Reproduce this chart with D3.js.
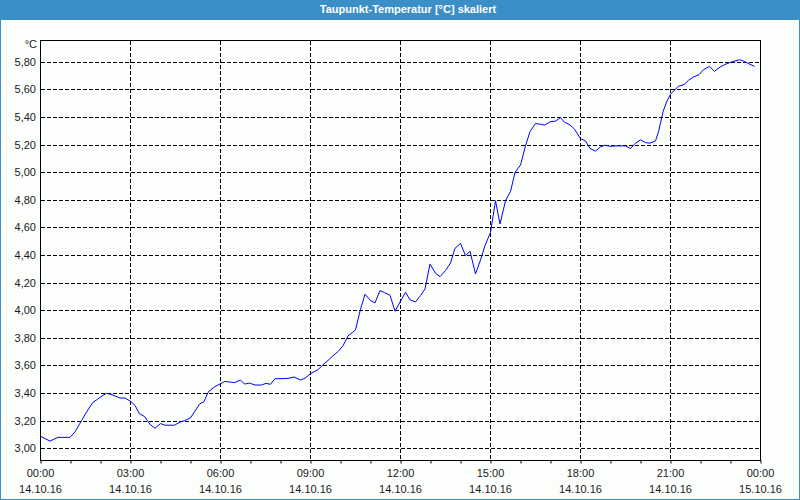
<!DOCTYPE html>
<html lang="de">
<head>
    <meta charset="UTF-8">
    <title>Taupunkt-Temperatur</title>
    <script src="https://cdnjs.cloudflare.com/ajax/libs/d3/7.8.5/d3.min.js"></script>
    <style>
        body { margin: 0; }
        svg { display: block; }
    </style>
</head>
<body>
    <div id="wrapper"></div>
    <script>
        // Messzeitpunkte in Minuten ab 14.10.16 00:00
        const minutes = [
            0, 20, 36, 60, 70, 83, 93, 106, 115, 122, 133, 144, 160, 170, 181, 190,
            199, 209, 220, 230, 241, 250, 269, 280, 289, 301, 310, 319, 328, 336, 349, 360,
            370, 379, 389, 401, 409, 419, 430, 443, 452, 461, 470, 482, 496, 508, 521, 530,
            541, 556, 566, 576, 586, 596, 606, 616, 625, 631, 641, 650, 661, 670, 680, 689,
            700, 710, 731, 740, 751, 761, 770, 780, 791, 800, 811, 821, 830, 841, 851, 860,
            871, 881, 890, 901, 911, 920, 931, 941, 950, 961, 971, 980, 991, 1001, 1009, 1021,
            1031, 1041, 1049, 1060, 1069, 1081, 1091, 1100, 1111, 1121, 1130, 1141, 1151, 1160, 1171, 1181,
            1190, 1201, 1211, 1220, 1231, 1237, 1246, 1253, 1261, 1270, 1277, 1288, 1297, 1307, 1318, 1327,
            1339, 1349, 1360, 1369, 1379, 1390, 1399, 1409, 1420, 1429
        ]
        // Taupunkt in °C
        const dewPoint = [
            3.088, 3.052, 3.079, 3.079, 3.119, 3.200, 3.262, 3.333, 3.355, 3.374, 3.398, 3.388, 3.364, 3.364, 3.340, 3.310,
            3.250, 3.230, 3.174, 3.145, 3.179, 3.167, 3.167, 3.190, 3.200, 3.220, 3.270, 3.320, 3.338, 3.405, 3.445, 3.466,
            3.484, 3.480, 3.475, 3.494, 3.465, 3.472, 3.458, 3.458, 3.470, 3.463, 3.504, 3.504, 3.506, 3.516, 3.494, 3.508,
            3.540, 3.569, 3.605, 3.636, 3.670, 3.700, 3.742, 3.814, 3.839, 3.858, 4.007, 4.116, 4.070, 4.053, 4.142, 4.128,
            4.108, 3.993, 4.130, 4.075, 4.060, 4.106, 4.154, 4.335, 4.267, 4.243, 4.287, 4.342, 4.448, 4.484, 4.395, 4.427,
            4.263, 4.364, 4.467, 4.564, 4.793, 4.624, 4.793, 4.860, 4.998, 5.051, 5.190, 5.294, 5.352, 5.347, 5.340, 5.366,
            5.369, 5.395, 5.361, 5.342, 5.311, 5.243, 5.226, 5.171, 5.152, 5.183, 5.195, 5.186, 5.190, 5.190, 5.190, 5.171,
            5.207, 5.234, 5.214, 5.210, 5.226, 5.292, 5.436, 5.508, 5.564, 5.598, 5.622, 5.634, 5.665, 5.689, 5.706, 5.742,
            5.766, 5.730, 5.761, 5.778, 5.793, 5.805, 5.814, 5.802, 5.781, 5.766
        ]
        const yTicks = [3.0, 3.2, 3.4, 3.6, 3.8, 4.0, 4.2, 4.4, 4.6, 4.8, 5.0, 5.2, 5.4, 5.6, 5.8]
        const xTickHours = [0, 3, 6, 9, 12, 15, 18, 21, 24]
        const titleText = 'Taupunkt-Temperatur [°C] skaliert'
        const unitText = '°C'

        function drawChart() {
            const start = new Date(2016, 9, 14, 0, 0)
            const toDate = m => new Date(start.getTime() + m * 60000)
            const dataset = minutes.map((m, i) => ({ date: toDate(m), value: dewPoint[i] }))
            const xAccessor = d => d.date
            const yAccessor = d => d.value

            const dimensions = {
                width: 800,
                height: 500,
                margin: { top: 40, right: 40, bottom: 40, left: 40 }
            }
            dimensions.boundedWidth = dimensions.width - dimensions.margin.left - dimensions.margin.right
            dimensions.boundedHeight = dimensions.height - dimensions.margin.top - dimensions.margin.bottom

            const frameColor = '#3c8fc6'
            const font = '"Liberation Sans", Arial, sans-serif'

            const wrapper = d3.select('#wrapper')
                .append('svg')
                    .attr('width', dimensions.width)
                    .attr('height', dimensions.height)
                    .style('font-family', font)

            // Rahmen und Titelleiste
            wrapper.append('rect')
                .attr('x', 0.5).attr('y', 0.5)
                .attr('width', dimensions.width - 1).attr('height', dimensions.height - 1)
                .attr('fill', '#fcfefc')
                .attr('stroke', frameColor)
            wrapper.append('rect')
                .attr('width', dimensions.width).attr('height', 20)
                .attr('fill', frameColor)
            wrapper.append('text')
                .attr('x', 408).attr('y', 13)
                .attr('fill', 'white')
                .attr('text-anchor', 'middle')
                .style('font-size', '11px')
                .style('font-weight', 'bold')
                .text(titleText)

            const bounds = wrapper.append('g')
                .attr('transform', `translate(${dimensions.margin.left},${dimensions.margin.top})`)

            const xScale = d3.scaleTime()
                .domain([start, toDate(24 * 60)])
                .range([0, dimensions.boundedWidth])

            const yScale = d3.scaleLinear()
                .domain([2.915, 5.957])
                .range([dimensions.boundedHeight, 0])

            // Gitter
            const grid = bounds.append('g')
                .attr('stroke', 'black')
                .attr('stroke-dasharray', '4,2')
                .attr('shape-rendering', 'crispEdges')
            grid.selectAll('.hgrid')
                .data(yTicks)
                .join('line')
                    .attr('x1', 1).attr('x2', dimensions.boundedWidth)
                    .attr('y1', d => Math.round(yScale(d)) + 0.5)
                    .attr('y2', d => Math.round(yScale(d)) + 0.5)
            grid.selectAll('.vgrid')
                .data(xTickHours.slice(1, -1))
                .join('line')
                    .attr('x1', d => Math.round(xScale(toDate(d * 60))) + 0.5)
                    .attr('x2', d => Math.round(xScale(toDate(d * 60))) + 0.5)
                    .attr('y1', 1).attr('y2', dimensions.boundedHeight)

            // Linie
            const lineGenerator = d3.line()
                .x(d => xScale(xAccessor(d)))
                .y(d => yScale(yAccessor(d)))
            bounds.append('path')
                .datum(dataset)
                .attr('d', lineGenerator)
                .attr('fill', 'none')
                .attr('stroke', '#0000ff')
                .attr('stroke-width', 1)

            // Diagrammrahmen
            bounds.append('rect')
                .attr('x', 0.5).attr('y', 0.5)
                .attr('width', dimensions.boundedWidth).attr('height', dimensions.boundedHeight)
                .attr('fill', 'none')
                .attr('stroke', 'black')
                .attr('shape-rendering', 'crispEdges')

            // x-Achse: Stundenstriche
            const xMinorAxis = d3.axisBottom(xScale)
                .ticks(d3.timeHour.every(1))
                .tickSize(3)
                .tickFormat('')
            bounds.append('g')
                .attr('transform', `translate(0.5,${dimensions.boundedHeight + 0.5})`)
                .call(xMinorAxis)
                .call(g => g.select('.domain').remove())

            // x-Achse: Beschriftung
            const xAxisGenerator = d3.axisBottom(xScale)
                .tickValues(xTickHours.map(h => toDate(h * 60)))
                .tickSize(0)
                .tickFormat(d3.timeFormat('%H:%M'))
            const xAxis = bounds.append('g')
                .attr('transform', `translate(0,${dimensions.boundedHeight})`)
                .call(xAxisGenerator)
            xAxis.select('.domain').remove()
            xAxis.selectAll('.tick text')
                .attr('y', 0)
                .attr('dy', 0)
                .style('font-size', '11px')
                .style('font-family', font)
                .attr('fill', '#1a1a1a')
                .each(function (d) {
                    const t = d3.select(this)
                    t.text(null)
                    t.append('tspan').attr('x', 0).attr('y', 17).text(d3.timeFormat('%H:%M')(d))
                    t.append('tspan').attr('x', 0).attr('y', 33).text(d3.timeFormat('%d.%m.%y')(d))
                })

            // y-Achse
            const yAxisGenerator = d3.axisLeft(yScale)
                .tickValues(yTicks)
                .tickSize(0)
                .tickPadding(4)
                .tickFormat(d => d3.format('.2f')(d).replace('.', ','))
            const yAxis = bounds.append('g')
                .call(yAxisGenerator)
            yAxis.select('.domain').remove()
            yAxis.selectAll('.tick text')
                .style('font-size', '11px')
                .style('font-family', font)
                .attr('fill', '#1a1a1a')

            bounds.append('text')
                .attr('x', -3)
                .attr('y', 8)
                .attr('text-anchor', 'end')
                .attr('fill', '#1a1a1a')
                .style('font-size', '11px')
                .text(unitText)
        }

        drawChart()
    </script>
</body>
</html>
